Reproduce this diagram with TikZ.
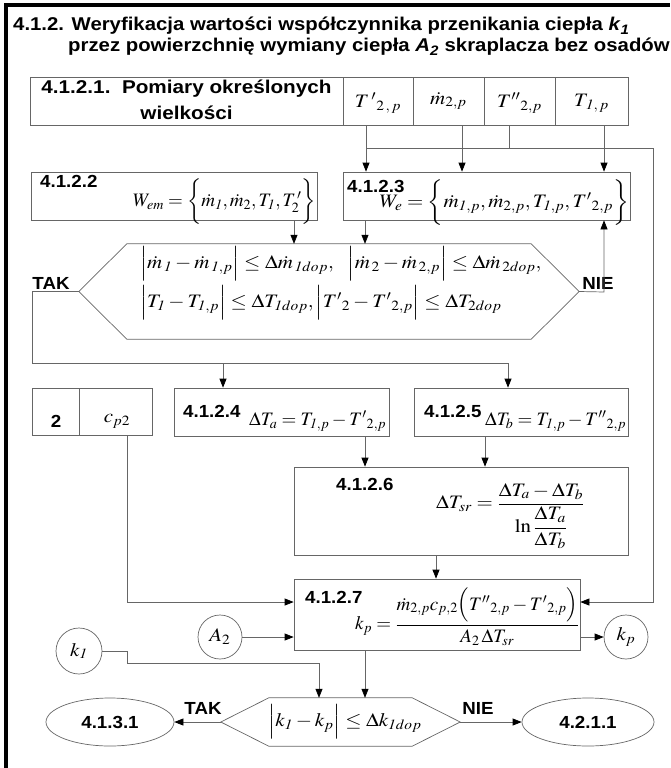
\documentclass[tikz,border=0pt]{standalone}
\usepackage{amsmath}
\usepackage{mathptmx}
\usepackage{graphicx}
\usepackage[no-math]{fontspec}
\setmainfont{Liberation Sans}
\usetikzlibrary{arrows.meta,shapes.geometric}

\newcommand\sx[2]{\scalebox{#1}[1]{#2}}
\newcommand\hl[1]{\sx{1.07}{#1}}
\newcommand\hm[1]{\sx{1.1}{$#1$}}
\newcommand\one{\mathit{1}}

\tikzset{
 ln/.style={draw=black!60, line width=0.7pt},
 arr/.style={ln, -{Triangle[length=9pt,width=7pt,color=black]}},
 box/.style={ln, rectangle, inner sep=0pt},
 lab/.style={font=\fontsize{17.5}{22}\selectfont\bfseries, inner sep=0pt},
 mth/.style={font=\fontsize{19}{22}\selectfont, inner sep=0pt},
 ttl/.style={font=\fontsize{18.5}{22}\selectfont\bfseries, inner sep=0pt, anchor=base west},
 circ/.style={ln, circle, inner sep=0pt, minimum size=44pt, font=\fontsize{19}{22}\selectfont},
 ell/.style={ln, ellipse, inner sep=0pt, minimum height=48pt, font=\fontsize{17.5}{20}\selectfont\bfseries},
}

\begin{document}
\begin{tikzpicture}[x=1pt,y=-1pt]
\useasboundingbox (0,0) rectangle (670,768);
\draw[line width=4.5pt] (6,768) -- (6,5) -- (670,5);

% title
\node[ttl] (title1) at (13,31) {\sx{1.1}{4.1.2. Weryfikacja wartości współczynnika przenikania ciepła \textit{k}\textsubscript{\itshape 1}}};
\node[ttl] (title2) at (68,52) {\sx{1.1}{przez powierzchnię wymiany ciepła \textit{A}\textsubscript{\itshape 2} skraplacza bez osadów}};

% table
\node[box, minimum width=313pt, minimum height=48pt] (t0) at (186.5,101) {};
\node[box, minimum width=70pt, minimum height=48pt] (t1) at (378,101) {};
\node[box, minimum width=71pt, minimum height=48pt] (t2) at (448.5,101) {};
\node[box, minimum width=71pt, minimum height=48pt] (t3) at (519.5,101) {};
\node[box, minimum width=73pt, minimum height=48pt] (t4) at (591.5,101) {};
\node[lab, font=\fontsize{18.5}{22}\selectfont\bfseries] (t0a) at (186.5,89) {\sx{1.12}{4.1.2.1.\ \ Pomiary określonych}};
\node[lab, font=\fontsize{18.5}{22}\selectfont\bfseries] (t0b) at (186.5,113) {\sx{1.12}{wielkości}};
\node[mth] (t1t) at (378,103) {\hm{{T\,'}_{2\,,\,p}}};
\node[mth] (t2t) at (448.5,101) {\hm{\dot m_{2,p}}};
\node[mth] (t3t) at (519.5,103) {\hm{{T''}_{2,p}}};
\node[mth] (t4t) at (591.5,103) {\hm{T_{\,\one,\,p}}};

% boxes 4.1.2.2 / 4.1.2.3
\node[box, minimum width=286pt, minimum height=48pt] (b2) at (174,196) {};
\node[box, minimum width=287pt, minimum height=48pt] (b3) at (486.5,196) {};
\node[lab, anchor=west] (b2l) at (40,181) {\hl{4.1.2.2}};
\node[mth, anchor=east] (b2f) at (316,202) {$W_{em} = \biggl\{\dot m_{\one}, \dot m_2, T_{\one}, T^{\,\prime}_2\biggr\}$};
\node[lab, anchor=west] (b3l) at (347,186) {\hl{4.1.2.3}};
\node[mth, anchor=east] (b3f) at (629,203) {\hm{W_e = \biggl\{\dot m_{\one,p}, \dot m_{2,p}, T_{\one,p}, {T'}_{2,p}\biggr\}}};

% decision 1
\node[minimum width=500pt, minimum height=95pt, inner sep=0pt] (d1) at (329,291.5) {};
\draw[ln] (d1.west) -- ([xshift=48pt]d1.north west) -- ([xshift=-48pt]d1.north east) -- (d1.east)
  -- ([xshift=-48pt]d1.south east) -- ([xshift=48pt]d1.south west) -- cycle;
\node[mth, anchor=west] (d1a) at (140,264) {\hm{\Bigl|\dot m_{\,\one} - \dot m_{\,\one,p}\Bigr| \le \Delta\dot m_{\,\one dop},\ \ \Bigl|\dot m_{\,2} - \dot m_{\,2,p}\Bigr| \le \Delta\dot m_{\,2dop},}};
\node[mth, anchor=west] (d1b) at (140,303) {\hm{\Bigl|T_{\one} - T_{\one,p}\Bigr| \le \Delta T_{\one dop}, \Bigl|{T'}_2 - {T'}_{2,p}\Bigr| \le \Delta T_{2dop}}};
\node[lab] (tak1) at (51,283) {\hl{TAK}};
\node[lab] (nie1) at (598,283) {\hl{NIE}};

% row 3
\node[box, minimum width=47pt, minimum height=47pt] (bc1) at (55.5,411.5) {};
\node[box, minimum width=73pt, minimum height=47pt] (bc2) at (115.5,411.5) {};
\node[lab] (bc1t) at (56,421) {\hl{2}};
\node[mth] (bc2t) at (117,421) {\hm{c_{p2}}};
\node[box, minimum width=215pt, minimum height=48pt] (b4) at (281.5,412) {};
\node[box, minimum width=214pt, minimum height=48pt] (b5) at (521,412) {};
\node[lab, anchor=west] (b4l) at (183,411) {\hl{4.1.2.4}};
\node[mth, anchor=west] (b4f) at (249,421) {$\Delta T_a = T_{\one,p} - {T'}_{2,p}$};
\node[lab, anchor=west] (b5l) at (424,411) {\hl{4.1.2.5}};
\node[mth, anchor=west] (b5f) at (485,421) {$\Delta T_b = T_{\one,p} - {T''}_{2,p}$};

% 4.1.2.6
\node[box, minimum width=334pt, minimum height=88pt] (b6) at (461,511) {};
\node[lab, anchor=west] (b6l) at (336,484) {\hl{4.1.2.6}};
\node[mth, anchor=west] (b6f) at (436,516) {\hm{\Delta T_{sr} = \dfrac{\Delta T_a - \Delta T_b}{\ln\dfrac{\Delta T_a}{\Delta T_b}}}};

% 4.1.2.7
\node[box, minimum width=286pt, minimum height=71pt] (b7) at (437,614.5) {};
\node[lab, anchor=west] (b7l) at (305,597) {\hl{4.1.2.7}};
\node[mth, anchor=west] (b7f) at (355,617) {$k_p = \dfrac{\dot m_{2,p} c_{p,2}\Bigl({T''}_{2,p} - {T'}_{2,p}\Bigr)}{A_2\,\Delta T_{sr}}$};

\node[circ] (a2) at (220,637) {\hm{A_2}};
\node[circ] (kp) at (626,637) {\hm{k_p}};
\node[circ, minimum size=46pt] (k1) at (79,651) {\hm{k_{\one}}};

% decision 2
\node[minimum width=239pt, minimum height=48pt, inner sep=0pt] (d2) at (340.5,722) {};
\draw[ln] (d2.west) -- ([xshift=48pt]d2.north west) -- ([xshift=-48pt]d2.north east) -- (d2.east)
  -- ([xshift=-48pt]d2.south east) -- ([xshift=48pt]d2.south west) -- cycle;
\node[mth] (d2f) at (345,722) {\hm{\Bigl|k_{\one} - k_p\Bigr| \le \Delta k_{\one dop}}};
\node[lab] (tak2) at (203,708) {\hl{TAK}};
\node[lab] (nie2) at (478,708) {\hl{NIE}};
\node[ell, minimum width=128pt] (e1) at (110,722) {\hl{4.1.3.1}};
\node[ell, minimum width=132pt] (e2) at (588,722) {\hl{4.2.1.1}};

% connectors
\coordinate (xa) at (366,148);
\coordinate (xr) at (653,148);
\coordinate (y7) at (0,602);
\coordinate (xm) at (462,0);
\coordinate (xt) at (509,0);
\coordinate (x1) at (604,0);
\coordinate (x2) at (294,0);
\coordinate (x3) at (365,0);
\coordinate (tl) at (32,363);
\coordinate (x4) at (223,363);
\coordinate (x5) at (508,363);
\coordinate (xn) at (604,292);
\coordinate (x6a) at (365,0);
\coordinate (x6b) at (485,0);
\coordinate (x7) at (436,0);
\coordinate (xc) at (127,0);
\coordinate (k1c) at (127,663);
\coordinate (xk) at (319,663);

\draw[arr] (t1.south -| xa) -- (b3.north -| xa);
\draw[arr] (xa) -- (xr) -- (xr |- y7) -- (b7.east |- y7);
\draw[arr] (t2.south -| xm) -- (b3.north -| xm);
\draw[ln] (t3.south -| xt) -- (xt |- xa);
\draw[arr] (t4.south -| x1) -- (b3.north -| x1);
\draw[arr] (b2.south -| x2) -- (d1.north -| x2);
\draw[arr] (b3.south -| x3) -- (d1.north -| x3);
\draw[ln] (d1.west) -| (tl) -- (x5);
\draw[arr] (x4) -- (b4.north -| x4);
\draw[arr] (x5) -- (b5.north -| x5);
\draw[arr] (d1.east) -- (xn) -- (b3.south -| xn);
\draw[arr] (b4.south -| x6a) -- (b6.north -| x6a);
\draw[arr] (b5.south -| x6b) -- (b6.north -| x6b);
\draw[arr] (b6.south -| x7) -- (b7.north -| x7);
\draw[arr] (bc2.south -| xc) -- (xc |- y7) -- (b7.west |- y7);
\draw[arr] (a2.east) -- (b7.west |- a2.east);
\draw[arr] (b7.east |- kp.west) -- (kp.west);
\draw[arr] (k1.east) -- (k1.east -| k1c) -- (k1c) -- (xk) -- (d2.north -| xk);
\draw[arr] (b7.south -| x3) -- (d2.north -| x3);
\draw[arr] (d2.west) -- (e1.east);
\draw[arr] (d2.east) -- (e2.west);
\end{tikzpicture}
\end{document}
